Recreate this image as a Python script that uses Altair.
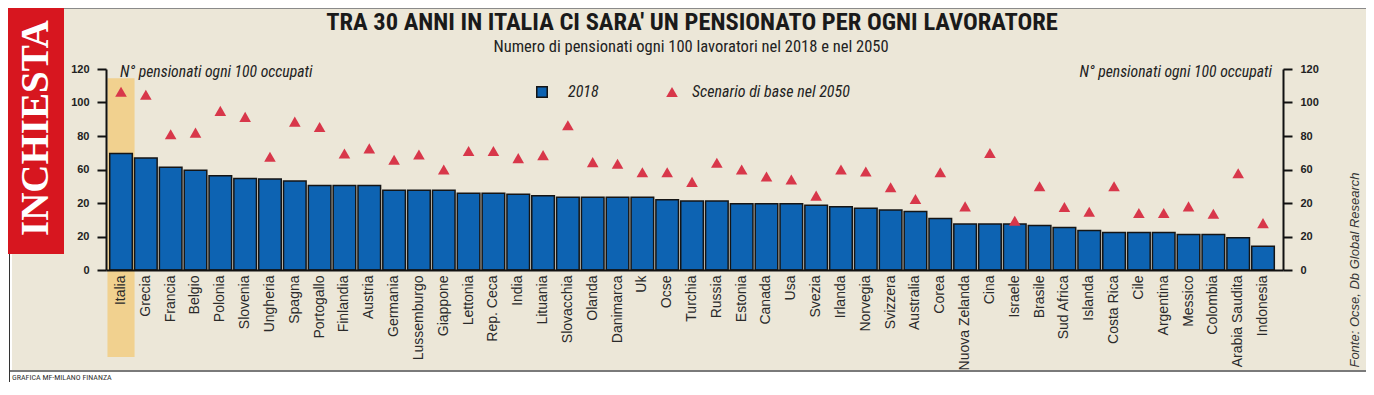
import altair as alt
import pandas as pd

countries = ["Italia", "Grecia", "Francia", "Belgio", "Polonia", "Slovenia", "Ungheria", "Spagna",
             "Portogallo", "Finlandia", "Austria", "Germania", "Lussemburgo", "Giappone", "Lettonia",
             "Rep. Ceca", "India", "Lituania", "Slovacchia", "Olanda", "Danimarca", "Uk", "Ocse",
             "Turchia", "Russia", "Estonia", "Canada", "Usa", "Svezia", "Irlanda", "Norvegia",
             "Svizzera", "Australia", "Corea", "Nuova Zelanda", "Cina", "Israele", "Brasile",
             "Sud Africa", "Islanda", "Costa Rica", "Cile", "Argentina", "Messico", "Colombia",
             "Arabia Saudita", "Indonesia"]
v2018 = [69.6, 66.8, 61.4, 59.6, 56.2, 54.6, 54.4, 53.2, 50.4, 50.4, 50.4, 47.6, 47.6, 47.6, 45.8,
         45.8, 45.2, 44.4, 43.4, 43.4, 43.4, 43.4, 42.0, 41.2, 41.2, 39.6, 39.6, 39.6, 38.6, 37.8,
         36.8, 35.8, 35.0, 30.8, 27.4, 27.4, 27.4, 26.6, 25.4, 23.6, 22.4, 22.4, 22.4, 21.2, 21.2,
         19.2, 14.2]
v2050 = [106.4, 104.6, 81.0, 82.0, 95.0, 91.4, 67.6, 88.6, 85.4, 69.6, 72.6, 65.8, 69.0, 60.0, 71.0,
         71.0, 66.8, 68.6, 86.4, 64.4, 63.4, 58.4, 58.4, 52.6, 64.0, 60.0, 55.8, 54.0, 44.4, 60.0,
         58.8, 49.4, 42.4, 58.4, 38.0, 69.8, 29.4, 50.0, 37.6, 34.8, 50.0, 34.0, 34.0, 38.0, 33.6,
         57.8, 28.0]
y_ticks = [0, 20, 40, 60, 80, 100, 120]
highlight_country = "Italia"
highlight_top = 114.5

title = "TRA 30 ANNI IN ITALIA CI SARA' UN PENSIONATO PER OGNI LAVORATORE"
subtitle = "Numero di pensionati ogni 100 lavoratori nel 2018 e nel 2050"
axis_note = "N° pensionati ogni 100 occupati"
legend_labels = ["2018", "Scenario di base nel 2050"]
source = "Fonte: Ocse, Db Global Research"
credit = "GRAFICA MF-MILANO FINANZA"
side_tag = "INCHIESTA"

df = pd.DataFrame({"country": countries, "v2018": v2018, "v2050": v2050})

BEIGE = "#ECE7D8"
BLUE = "#0D63B2"
RED = "#D8374A"
HL = "#F1D18F"
NARROW = "Liberation Sans Narrow, Roboto Condensed, DejaVu Sans Condensed, sans-serif"
SANS = "Liberation Sans, Arial, sans-serif"

W, H = 1177, 201

x_enc = alt.X("country:N", sort=countries, title=None,
              scale=alt.Scale(paddingInner=0.09, paddingOuter=0.25, align=0.3),
              axis=alt.Axis(labelAngle=270, labelAlign="right", labelBaseline="middle",
                            ticks=False, domainWidth=2, domainColor="#111",
                            labelFont=SANS, labelFontSize=14, labelColor="#2A2A2A",
                            labelPadding=5, labelOverlap=False, zindex=2, grid=False))

def y_axis(orient):
    return alt.Axis(orient=orient, values=y_ticks,
                    labelExpr="datum.value == 40 ? '20' : datum.label",
                    tickSize=9, tickWidth=2, tickColor="#111", domainWidth=2, domainColor="#111",
                    labelFont=SANS, labelFontWeight="bold", labelFontSize=11, labelColor="#222",
                    labelPadding=8, title=None, grid=False, zindex=2)

yscale = alt.Scale(domain=[0, 120], nice=False, zero=True)

one = alt.Data(values=[{"k": 1}])

def rect(x, x2, y, y2, color):
    return alt.Chart(one).mark_rect(color=color).encode(
        x=alt.value(x), x2=alt.value(x2), y=alt.value(y), y2=alt.value(y2))

def text(t, x, y, **kw):
    return alt.Chart(one).mark_text(text=t, **kw).encode(x=alt.value(x), y=alt.value(y))

deco = alt.layer(
    rect(-98, -42, -61, 185, "#D7161F"),
    rect(-98, -94, 185, 320, "#FFFFFF"),
    rect(-98, 1270, 303, 320, "#FFFFFF"),
    rect(-97, -96, 185, 320, "#333333"),
    rect(-96, 1270, 301, 303, "#7A7A7A"),
    rect(-42, 1270, -61, -60, "#8A8A8A"),
)

highlight = alt.Chart(df).transform_filter(
    alt.datum.country == highlight_country
).mark_bar(color=HL, width=alt.RelativeBandSize(1.2)).encode(
    x=x_enc,
    y=alt.Y(datum=highlight_top, type="quantitative", scale=yscale, axis=None),
    y2=alt.value(288),
)

bars = alt.Chart(df).mark_bar(color=BLUE, stroke="#151515", strokeWidth=1.5).encode(
    x=x_enc,
    y=alt.Y("v2018:Q", scale=yscale, axis=y_axis("left")),
    tooltip=["country", "v2018"],
)

tris = alt.Chart(df).mark_point(shape="triangle-up", filled=True, color=RED, size=135, opacity=1).encode(
    x=x_enc,
    y=alt.Y("v2050:Q", scale=yscale, axis=y_axis("right")),
    tooltip=["country", "v2050"],
)

texts = alt.layer(
    text(side_tag, -70, 59, angle=270, font="Liberation Serif, DejaVu Serif, serif",
         fontWeight="bold", fontSize=39, color="#FFFFFF", align="center", baseline="middle"),
    text(title, 586, -46.5, font=NARROW, fontWeight="bold", fontSize=24.5, color="#1A1A1A",
         align="center", baseline="middle"),
    text(subtitle, 585, -22, font=NARROW, fontSize=16.5, color="#222",
         align="center", baseline="middle"),
    text(axis_note, 14, 3, font=NARROW, fontStyle="italic", fontSize=15.7, color="#222",
         align="left", baseline="middle"),
    text(axis_note, 1166, 3, font=NARROW, fontStyle="italic", fontSize=15.7, color="#222",
         align="right", baseline="middle"),
    alt.Chart(one).mark_point(shape="square", filled=True, color=BLUE, stroke="#151515",
                              strokeWidth=1.5, size=110, opacity=1).encode(
        x=alt.value(436), y=alt.value(23)),
    text(legend_labels[0], 462, 23, font=NARROW, fontStyle="italic", fontSize=16, color="#222",
         align="left", baseline="middle"),
    alt.Chart(one).mark_point(shape="triangle-up", filled=True, color=RED, size=135, opacity=1).encode(
        x=alt.value(566), y=alt.value(23)),
    text(legend_labels[1], 586, 23, font=NARROW, fontStyle="italic", fontSize=16, color="#222",
         align="left", baseline="middle"),
    text(source, 1249, 201, angle=270, font=SANS, fontStyle="italic", fontSize=13, color="#333",
         align="center", baseline="middle"),
    text(credit, -94, 309, font=NARROW, fontSize=8, color="#333", align="left", baseline="middle"),
)

chart = alt.layer(deco, highlight, bars, tris, texts).resolve_scale(y="independent").properties(
    width=W, height=H,
    padding={"left": 98, "top": 61, "right": 83, "bottom": 112},
    autosize=alt.AutoSizeParams(type="none"),
    background=BEIGE,
).configure_view(stroke=None)

chart.save("out.html", embed_options={"renderer": "svg", "actions": False})
